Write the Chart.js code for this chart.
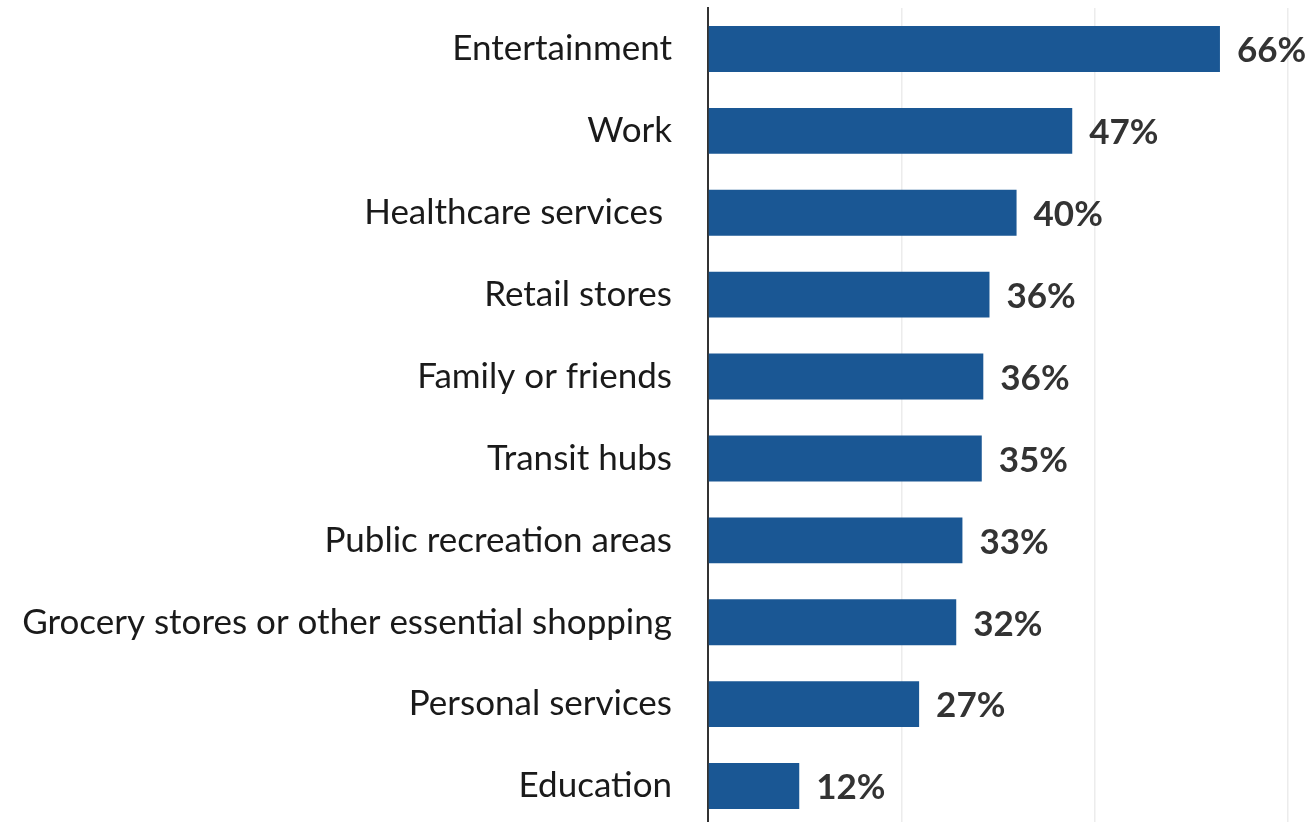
<!DOCTYPE html>
<html>
<head>
<meta charset="utf-8">
<script src="https://cdn.jsdelivr.net/npm/chart.js@4"></script>
<style>
  html, body { margin: 0; padding: 0; background: #fff; overflow: hidden; }
  #wrap { width: 1309px; height: 827px; }
</style>
</head>
<body>
<div id="wrap"><canvas id="chart"></canvas></div>
<script>
const categories = [
    "Entertainment",
    "Work",
    "Healthcare services ",
    "Retail stores",
    "Family or friends",
    "Transit hubs",
    "Public recreation areas",
    "Grocery stores or other essential shopping",
    "Personal services",
    "Education"
];
const shares = [66.2, 47.1, 39.9, 36.4, 35.6, 35.4, 32.9, 32.1, 27.3, 11.8];
const xTicks = [0, 25, 50, 75];

const FONT = "Lato, 'Source Sans Pro', sans-serif";

// percent labels past the end of each bar
const valueLabels = {
    id: "valueLabels",
    afterDatasetsDraw(chart) {
        const ctx = chart.ctx;
        const meta = chart.getDatasetMeta(0);
        ctx.save();
        ctx.font = "bold 35px " + FONT;
        ctx.fillStyle = "#333";
        ctx.textAlign = "left";
        ctx.textBaseline = "middle";
        meta.data.forEach((bar, i) => {
            ctx.fillText(Math.round(shares[i]) + "%", bar.x + 17, bar.y + 2);
        });
        ctx.restore();
    }
};

new Chart(document.getElementById("chart"), {
    type: "bar",
    data: {
        labels: categories,
        datasets: [{
            data: shares,
            backgroundColor: "#1a5794",
            barPercentage: 0.56,
            categoryPercentage: 1
        }]
    },
    options: {
        indexAxis: "y",
        responsive: true,
        maintainAspectRatio: false,
        animation: false,
        layout: { padding: { top: 8, right: 21, bottom: 0, left: 0 } },
        plugins: {
            legend: { display: false },
            tooltip: { enabled: false }
        },
        scales: {
            x: {
                min: 0,
                max: 75,
                afterBuildTicks: (axis) => { axis.ticks = xTicks.map(v => ({ value: v })); },
                afterFit: (axis) => { axis.height = 0; axis.paddingLeft = 0; axis.paddingRight = 0; },
                ticks: { display: false },
                grid: { color: "#ececec", lineWidth: 1.5, drawTicks: false },
                border: { display: false }
            },
            y: {
                // fixed gutter for the category names; no extra room above/below
                afterFit: (axis) => {
                    axis.width = 708;
                    axis.paddingTop = 0;
                    axis.paddingBottom = 0;
                },
                ticks: {
                    padding: 36,
                    color: "#1a1a1a",
                    font: { family: FONT, size: 35 }
                },
                grid: { display: false, drawTicks: false },
                border: { color: "#333", width: 2 }
            }
        }
    },
    plugins: [valueLabels]
});
</script>
</body>
</html>
